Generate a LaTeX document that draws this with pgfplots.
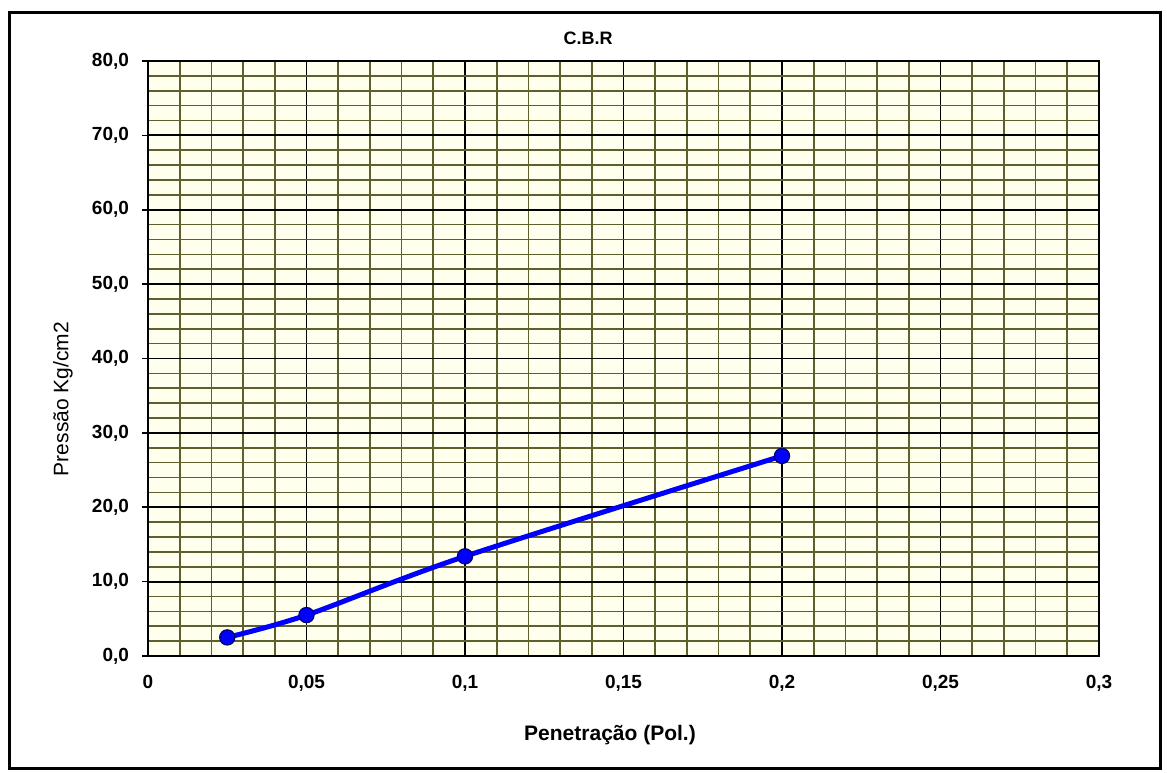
\documentclass[border=0pt]{standalone}
\usepackage{pgfplots}
\pgfplotsset{compat=1.18}
\usepackage{fontspec}
\setmainfont{Liberation Sans}
\definecolor{gridolive}{RGB}{95,95,45}
\definecolor{plotbg}{RGB}{255,255,238}
\definecolor{markedge}{RGB}{0,0,110}
\begin{document}
\begin{tikzpicture}
\begin{axis}[name=ax, scale only axis, width=475.5pt, height=297.5pt,
  xmin=0, xmax=0.3, ymin=0, ymax=80,
  xtick={0,0.05,0.1,0.15,0.2,0.25,0.3},
  ytick={0,10,20,30,40,50,60,70,80},
  xtick pos=left, ytick pos=left,
  minor x tick num=4, minor y tick num=4,
  grid=both,
  major grid style={black, line width=0.9pt},
  minor grid style={gridolive, line width=0.85pt},
  axis line style={black, line width=1pt},
  axis background/.style={fill=plotbg},
  tick align=outside, major tick length=3pt, minor tick length=0pt,
  major tick style={black, line width=0.8pt},
  major x tick style={draw=none},
  x tick label style={/pgf/number format/.cd, fixed, precision=2, use comma, assume math mode=true},
  y tick label style={/pgf/number format/.cd, fixed, fixed zerofill, precision=1, use comma, assume math mode=true},
  tick label style={font=\fontsize{9.5}{11}\selectfont\bfseries},
  xticklabel shift=3pt, yticklabel shift=3pt,
]
\addplot[blue, line width=2.5pt, smooth, mark=*, mark size=3.8pt,
  mark options={fill=blue, draw=markedge, line width=0.6pt}]
  coordinates {(0.025,2.5) (0.05,5.5) (0.1,13.4) (0.2,26.9)};
\end{axis}
\path ([shift={(-74pt,-58pt)}]ax.south west) rectangle ([shift={(509.5pt,328pt)}]ax.south west);
\draw[line width=1.5pt] ([shift={(-69pt,-56pt)}]ax.south west) rectangle ([shift={(506pt,321.5pt)}]ax.south west);
\node[font=\fontsize{9}{11}\selectfont\bfseries] at ([shift={(220pt,309pt)}]ax.south west) {C.B.R};
\node[font=\fontsize{10.5}{12}\selectfont\bfseries] at ([shift={(231pt,-39.5pt)}]ax.south west) {Penetração (Pol.)};
\node[font=\fontsize{10.5}{12}\selectfont, rotate=90] at ([shift={(-42.5pt,128.5pt)}]ax.south west) {Pressão Kg/cm2};
\end{tikzpicture}
\end{document}
